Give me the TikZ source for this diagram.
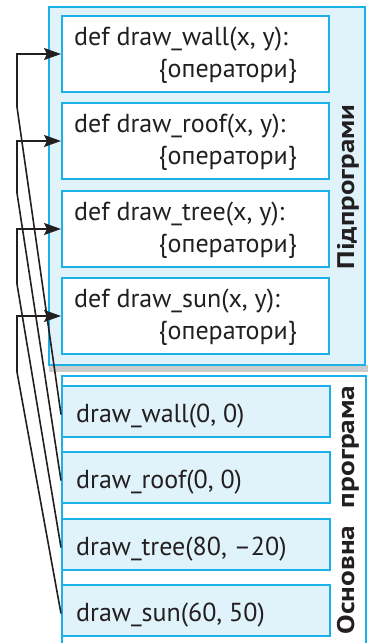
\documentclass[tikz,border=0pt]{standalone}
\usepackage{fontspec}
\usepackage{graphicx}
\setmainfont{PT Sans}
\usetikzlibrary{arrows.meta}
\definecolor{cyanb}{HTML}{1CB0E8}
\definecolor{lightb}{HTML}{E0F3FB}
\definecolor{grayband}{HTML}{CCCCCC}
\definecolor{txt}{HTML}{231F20}
\begin{document}
\begin{tikzpicture}[x=1pt,y=-1pt,
  container/.style={draw=cyanb, line width=2.2pt, inner sep=0pt},
  defbox/.style={draw=cyanb, line width=2pt, fill=white, minimum width=267pt, minimum height=76pt, inner sep=0pt},
  callbox/.style={draw=cyanb, line width=2pt, fill=lightb, minimum width=268pt, minimum height=51pt, inner sep=0pt},
  codetxt/.style={inner sep=0pt, text=txt, font=\fontsize{26}{30}\selectfont},
  sidelabel/.style={rotate=90, inner sep=0pt, text=txt, font=\bfseries\fontsize{24}{28}\selectfont},
  conn/.style={draw=txt, line width=1.6pt},
  arr/.style={conn, -{Stealth[length=17pt, width=12pt, inset=3pt]}}
]
\useasboundingbox (0,0) rectangle (368,643);
\clip (0,0) rectangle (368,643);
% gray band under top container
\fill[grayband] (49,365) rectangle (368,372);
% top container
\node[container, fill=lightb, minimum width=316pt, minimum height=358pt] (topc) at (207,186) {};
% bottom container
\node[container, fill=white, minimum width=304pt, minimum height=300pt] (botc) at (214,526) {};
% definition boxes
\node[defbox] (dwall) at (195.5,54) {};
\node[defbox] (droof) at (195.5,141) {};
\node[defbox] (dtree) at (195.5,229) {};
\node[defbox] (dsun)  at (195.5,316) {};
\node[codetxt, anchor=base west] (dwallA) at (74,45) {def draw\_wall(x, y):};
\node[codetxt, anchor=base east] (dwallB) at (297,77) {\{оператори\}};
\node[codetxt, anchor=base west] (droofA) at (74,132) {def draw\_roof(x, y):};
\node[codetxt, anchor=base east] (droofB) at (297,164) {\{оператори\}};
\node[codetxt, anchor=base west] (dtreeA) at (74,220) {def draw\_tree(x, y):};
\node[codetxt, anchor=base east] (dtreeB) at (297,252) {\{оператори\}};
\node[codetxt, anchor=base west] (dsunA) at (74,307) {def draw\_sun(x, y):};
\node[codetxt, anchor=base east] (dsunB) at (297,339) {\{оператори\}};
% call boxes
\node[callbox] (cwall) at (196,411.5) {};
\node[callbox] (croof) at (196,477.5) {};
\node[callbox] (ctree) at (196,544.5) {};
\node[callbox] (csun)  at (196,610.5) {};
\node[codetxt, anchor=base west] (cwallT) at (76,422) {draw\_wall(0, 0)};
\node[codetxt, anchor=base west] (croofT) at (76,488) {draw\_roof(0, 0)};
\node[codetxt, anchor=base west] (ctreeT) at (76,555) {draw\_tree(80, –20)};
\node[codetxt, anchor=base west] (csunT)  at (76,621) {draw\_sun(60, 50)};
% side labels
\node[sidelabel] (lsub) at (348,187) {\scalebox{1.2}[1]{Підпрограми}};
\node[sidelabel] (lmain) at (348,510) {\scalebox{1.22}[1]{Основна\hspace{0.35em} програма}};
% connectors
\draw[arr] ([yshift=-3pt]cwall.west) -- (17,107) |- (dwall.west);
\draw[arr] ([yshift=-3pt]croof.west) -- (17,193) |- (droof.west);
\draw[arr] ([yshift=-3pt]ctree.west) -- (17,284) |- (dtree.west);
\draw[arr] ([yshift=-3pt]csun.west) -- (17,372) |- (dsun.west);
\end{tikzpicture}
\end{document}
